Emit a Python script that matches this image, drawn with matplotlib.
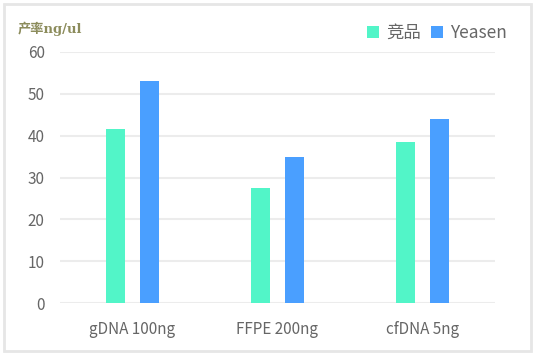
import numpy as np
import matplotlib.pyplot as plt
from matplotlib.patches import Rectangle

plt.rcParams['font.family'] = ['Noto Sans CJK SC', 'DejaVu Sans']

categories = ['gDNA 100ng', 'FFPE 200ng', 'cfDNA 5ng']
competitor = [41.6, 27.5, 38.5]
yeasen = [53.1, 34.9, 44.0]
series_names = ['竞品', 'Yeasen']
y_ticks = [0, 10, 20, 30, 40, 50, 60]

teal = '#52F5C8'
blue = '#4A9FFF'
text_gray = '#666666'

fig = plt.figure(figsize=(5.35, 3.55), dpi=100)
ax = fig.add_axes([60 / 535, 1 - 303 / 355, 435 / 535, 251 / 355])

x = np.arange(len(categories))
width = 0.125
offset = 0.117
ax.bar(x - offset, competitor, width, color=teal, label=series_names[0], zorder=3)
ax.bar(x + offset, yeasen, width, color=blue, label=series_names[1], zorder=3)

ax.set_xlim(-0.5, 2.5)
ax.set_ylim(0, 60)
ax.set_yticks(y_ticks)
ax.set_xticks(x)
ax.set_xticklabels(categories)
ax.tick_params(axis='both', length=0, colors=text_gray, labelsize=11)
ax.tick_params(axis='y', pad=11)
ax.tick_params(axis='x', pad=13)
ax.grid(axis='y', color='#ececec', linewidth=1.5, zorder=0)
for s in ax.spines.values():
    s.set_visible(False)

fig.text(18 / 535, 1 - 29 / 355, '产率ng/ul', color='#8C8C5C', fontsize=9.5,
         family=['DejaVu Serif', 'Noto Sans CJK SC'],
         fontweight='bold', va='center', ha='left')

ax.legend(loc='upper right', bbox_to_anchor=(514 / 535, 1 - 17 / 355),
          bbox_transform=fig.transFigure, ncol=2, frameon=False, fontsize=12.5,
          handlelength=0.7, handleheight=0.7, handletextpad=0.4, columnspacing=0.6,
          labelcolor=text_gray, borderaxespad=0)

fig.patches.append(Rectangle((4 / 535, 4 / 355), 527 / 535, 347 / 355, transform=fig.transFigure,
                             fill=False, edgecolor='#e6e6e6', linewidth=2))

fig.savefig('out.png', dpi=100)
